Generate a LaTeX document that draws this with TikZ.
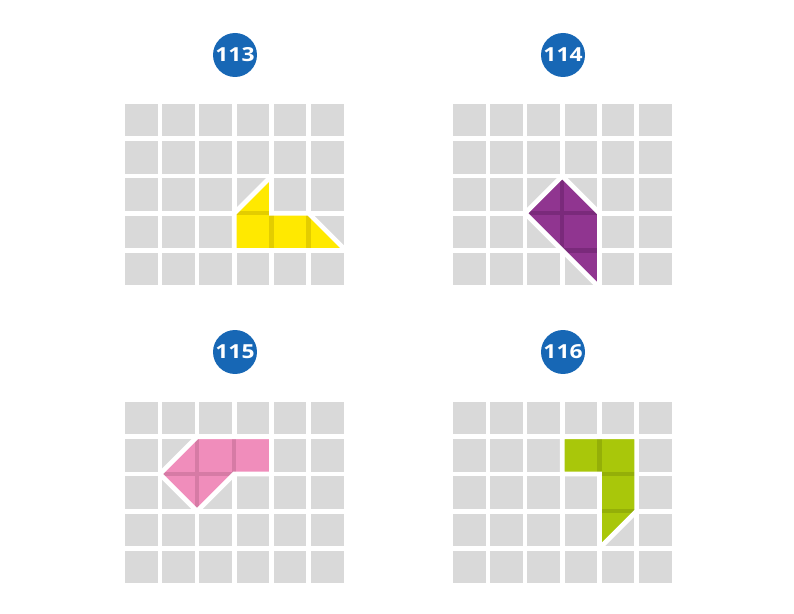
\documentclass[tikz,border=0pt]{standalone}
\usepackage{fontspec}
\setsansfont{Open Sans}
\usepackage{xcolor}
\definecolor{BadgeBlue}{HTML}{1767B5}
\definecolor{CellGray}{HTML}{D9D9D9}
\definecolor{YellowFill}{HTML}{FFE900}
\definecolor{YellowSeam}{HTML}{E3CD00}
\definecolor{PurpleFill}{HTML}{903590}
\definecolor{PurpleSeam}{HTML}{7A2A7B}
\definecolor{PinkFill}{HTML}{F08DBB}
\definecolor{PinkSeam}{HTML}{D67BA5}
\definecolor{GreenFill}{HTML}{A9C70A}
\definecolor{GreenSeam}{HTML}{94AF08}
\usepackage{tikz}

\begin{document}
\begin{tikzpicture}[
  x=0.02cm, y=-0.02cm,
  every node/.style={font=\sffamily},
  cell/.style={fill=CellGray},
  badge/.style={
    circle, fill=BadgeBlue, minimum size=0.88cm, inner sep=0pt,
    text=white, font=\sffamily\bfseries\fontsize{11}{11}\selectfont},
  seam/.style={draw=#1, line width=2.5pt},
  rim/.style={draw=white, line width=2.7pt, line join=miter},
  unit/.style={shift={(-2.35,-2.35)}, x=0.744cm, y=-0.744cm},
]
\useasboundingbox (0,0) rectangle (794,614);

% 113
\node[badge] (b113) at (235,55) {\scalebox{1.18}[1]{113}};
\begin{scope}[shift={(125,104)}]
  \foreach \i in {0,...,5}
    \foreach \j in {0,...,4}
      \fill[cell] (\i*37.2,\j*37.2) rectangle ++(32.5,32.5);
  \begin{scope}[unit]
    \fill[YellowFill] (4,2) -- (3,3) -- (3,4) -- (6,4) -- (5,3) -- (4,3) -- cycle;
    \draw[seam=YellowSeam] (3,3) -- (4,3) (4,3) -- (4,4) (5,3) -- (5,4);
    \draw[rim] (4,2) -- (3,3) -- (3,4) -- (6,4) -- (5,3) -- (4,3) -- cycle;
  \end{scope}
\end{scope}

% 114
\node[badge] (b114) at (563,55) {\scalebox{1.18}[1]{114}};
\begin{scope}[shift={(453,104)}]
  \foreach \i in {0,...,5}
    \foreach \j in {0,...,4}
      \fill[cell] (\i*37.2,\j*37.2) rectangle ++(32.5,32.5);
  \begin{scope}[unit]
    \fill[PurpleFill] (3,2) -- (4,3) -- (4,5) -- (2,3) -- cycle;
    \draw[seam=PurpleSeam] (3,2) -- (3,4) (2,3) -- (4,3) (3,4) -- (4,4);
    \draw[rim] (3,2) -- (4,3) -- (4,5) -- (2,3) -- cycle;
  \end{scope}
\end{scope}

% 115
\node[badge] (b115) at (235,352) {\scalebox{1.18}[1]{115}};
\begin{scope}[shift={(125,402)}]
  \foreach \i in {0,...,5}
    \foreach \j in {0,...,4}
      \fill[cell] (\i*37.2,\j*37.2) rectangle ++(32.5,32.5);
  \begin{scope}[unit]
    \fill[PinkFill] (2,1) -- (4,1) -- (4,2) -- (3,2) -- (2,3) -- (1,2) -- cycle;
    \draw[seam=PinkSeam] (2,1) -- (2,3) (3,1) -- (3,2) (1,2) -- (3,2);
    \draw[rim] (2,1) -- (4,1) -- (4,2) -- (3,2) -- (2,3) -- (1,2) -- cycle;
  \end{scope}
\end{scope}

% 116
\node[badge] (b116) at (563,352) {\scalebox{1.18}[1]{116}};
\begin{scope}[shift={(453,402)}]
  \foreach \i in {0,...,5}
    \foreach \j in {0,...,4}
      \fill[cell] (\i*37.2,\j*37.2) rectangle ++(32.5,32.5);
  \begin{scope}[unit]
    \fill[GreenFill] (3,1) -- (5,1) -- (5,3) -- (4,4) -- (4,2) -- (3,2) -- cycle;
    \draw[seam=GreenSeam] (4,1) -- (4,2) (4,2) -- (5,2) (4,3) -- (5,3);
    \draw[rim] (3,1) -- (5,1) -- (5,3) -- (4,4) -- (4,2) -- (3,2) -- cycle;
  \end{scope}
\end{scope}

\end{tikzpicture}
\end{document}
